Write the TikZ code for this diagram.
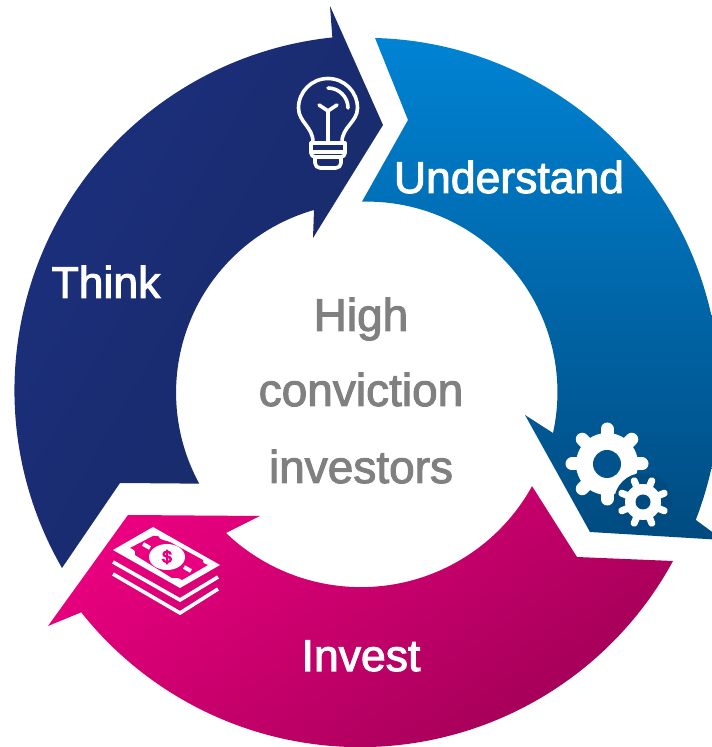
\documentclass[tikz,border=0pt]{standalone}
\usepackage{fontspec}
\setmainfont{Liberation Sans}
\font\whitefont="Liberation Sans" at 44.5pt
\font\grayfont="Liberation Sans" at 46pt
\font\dollarfont="Liberation Sans" at 17pt
\newcommand\heavy[1]{\special{pdf:code 2 Tr 1.0 w}#1\special{pdf:code 0 Tr}}
\definecolor{navyA}{HTML}{1C2F7E}
\definecolor{navyB}{HTML}{172A66}
\definecolor{blueA}{HTML}{0083D4}
\definecolor{blueB}{HTML}{004B80}
\definecolor{pinkA}{HTML}{EA007F}
\definecolor{pinkB}{HTML}{A00056}
\definecolor{grayT}{HTML}{808080}
\tikzset{
  whitelabel/.style={text=white,anchor=base,font=\whitefont,inner sep=0pt},
  graylabel/.style={text=grayT,anchor=base,font=\grayfont,inner sep=0pt},
  icon/.style={draw=white,line width=3.6pt,line cap=round,line join=round},
}
\begin{document}
\begin{tikzpicture}[x=1pt,y=1pt]
\useasboundingbox (0,0) rectangle (712,747);
\clip (0,0) rectangle (712,747);
% Think arrow
\shade[left color=navyA,right color=navyB,shading angle=60]
  (330,741) -- (383,622) -- (313,509) -- (314,537)
  arc[start angle=105.9,end angle=208.6,radius=190]
  -- (120,264) -- (62,179)
  arc[start angle=210,end angle=96,radius=355]
  -- cycle;
% Understand arrow
\shade[top color=blueA,bottom color=blueB]
  (375,709) arc[start angle=88.5,end angle=-21.2,radius=354]
  -- (723,207) -- (590,215) -- (525,332) -- (553,314)
  arc[start angle=-12.4,end angle=91.5,radius=190.5]
  -- (408,627) -- cycle;
% Invest arrow
\shade[top color=pinkA,bottom color=pinkB,shading angle=35]
  (48,121) -- (128,232) -- (260,231) -- (226,214)
  arc[start angle=226.3,end angle=331.1,radius=195.4]
  -- (577,190) -- (673,186)
  arc[start angle=-28.5,end angle=-141.5,radius=356]
  -- (82,135) -- cycle;
% Labels
\node[whitelabel] (understand) at (509,554) {\heavy{Understand}};
\node[whitelabel] (think) at (106,449) {\heavy{Think}};
\node[whitelabel] (invest) at (361,76) {\heavy{Invest}};
\node[graylabel] (high) at (361,416) {\heavy{High}};
\node[graylabel] (conviction) at (361,341) {\heavy{conviction}};
\node[graylabel] (investors) at (361,264) {\heavy{investors}};
% Bulb
\draw[icon] (313,605) .. controls (313,620) and (298.5,625) .. (298.5,639)
  arc[start angle=180,end angle=0,radius=29.5]
  .. controls (357.5,625) and (342,620) .. (342,605);
\draw[icon] (311,604) -- (345,604) (311,595) -- (345,595);
\draw[icon,rounded corners=4pt] (311,604) -- (311,590) -- (345,590) -- (345,604);
\draw[icon,rounded corners=5pt] (315,590) -- (315,579) -- (341,579) -- (341,590);
\draw[icon] (328,604) -- (328,636) -- (319,642) (328,636) -- (337,642);
\draw[icon] (328,659) arc[start angle=90,end angle=0,radius=20];
% Gears
\foreach \a in {0,45,...,315}
  \draw[white,line width=13pt,line cap=round] (607,283) -- ++(\a+0:35);
\fill[white] (607,283) circle[radius=31];
\fill[blueB!85!blueA] (607,283) circle[radius=14];
\fill[blueB] (643,245) circle[radius=29];
\foreach \a in {22.5,67.5,...,337.5}
  \draw[white,line width=7pt,line cap=round] (643,245) -- ++(\a:23);
\fill[white] (643,245) circle[radius=18];
\fill[blueB] (643,245) circle[radius=7.5];
% Money
\fill[white] (153,220) -- (220,182) -- (180,159) -- (113,197) -- cycle;
\fill[pinkA] (153,211) -- (158,211) .. controls (160,206) and (166,207) .. (170,205)
  -- (203,187) .. controls (202,183) and (206,183) .. (208,182) -- (182,167)
  .. controls (178,170) and (176,169) .. (172,169) -- (135,192)
  .. controls (136,197) and (133,198) .. (130,199) -- cycle;
\fill[white] (167,190) ellipse[x radius=18,y radius=13];
\node[text=pinkA,font=\dollarfont,inner sep=0pt] (dollar) at (167,190) {\heavy{\$}};
\draw[white,line width=4pt] (143,203) -- (150,199) (184,180) -- (191,176);
\draw[icon,line cap=butt,line join=miter] (113,185) -- (180,147) -- (218,170);
\draw[icon,line cap=butt,line join=miter] (113,173) -- (180,134) -- (218,158);
\end{tikzpicture}
\end{document}
